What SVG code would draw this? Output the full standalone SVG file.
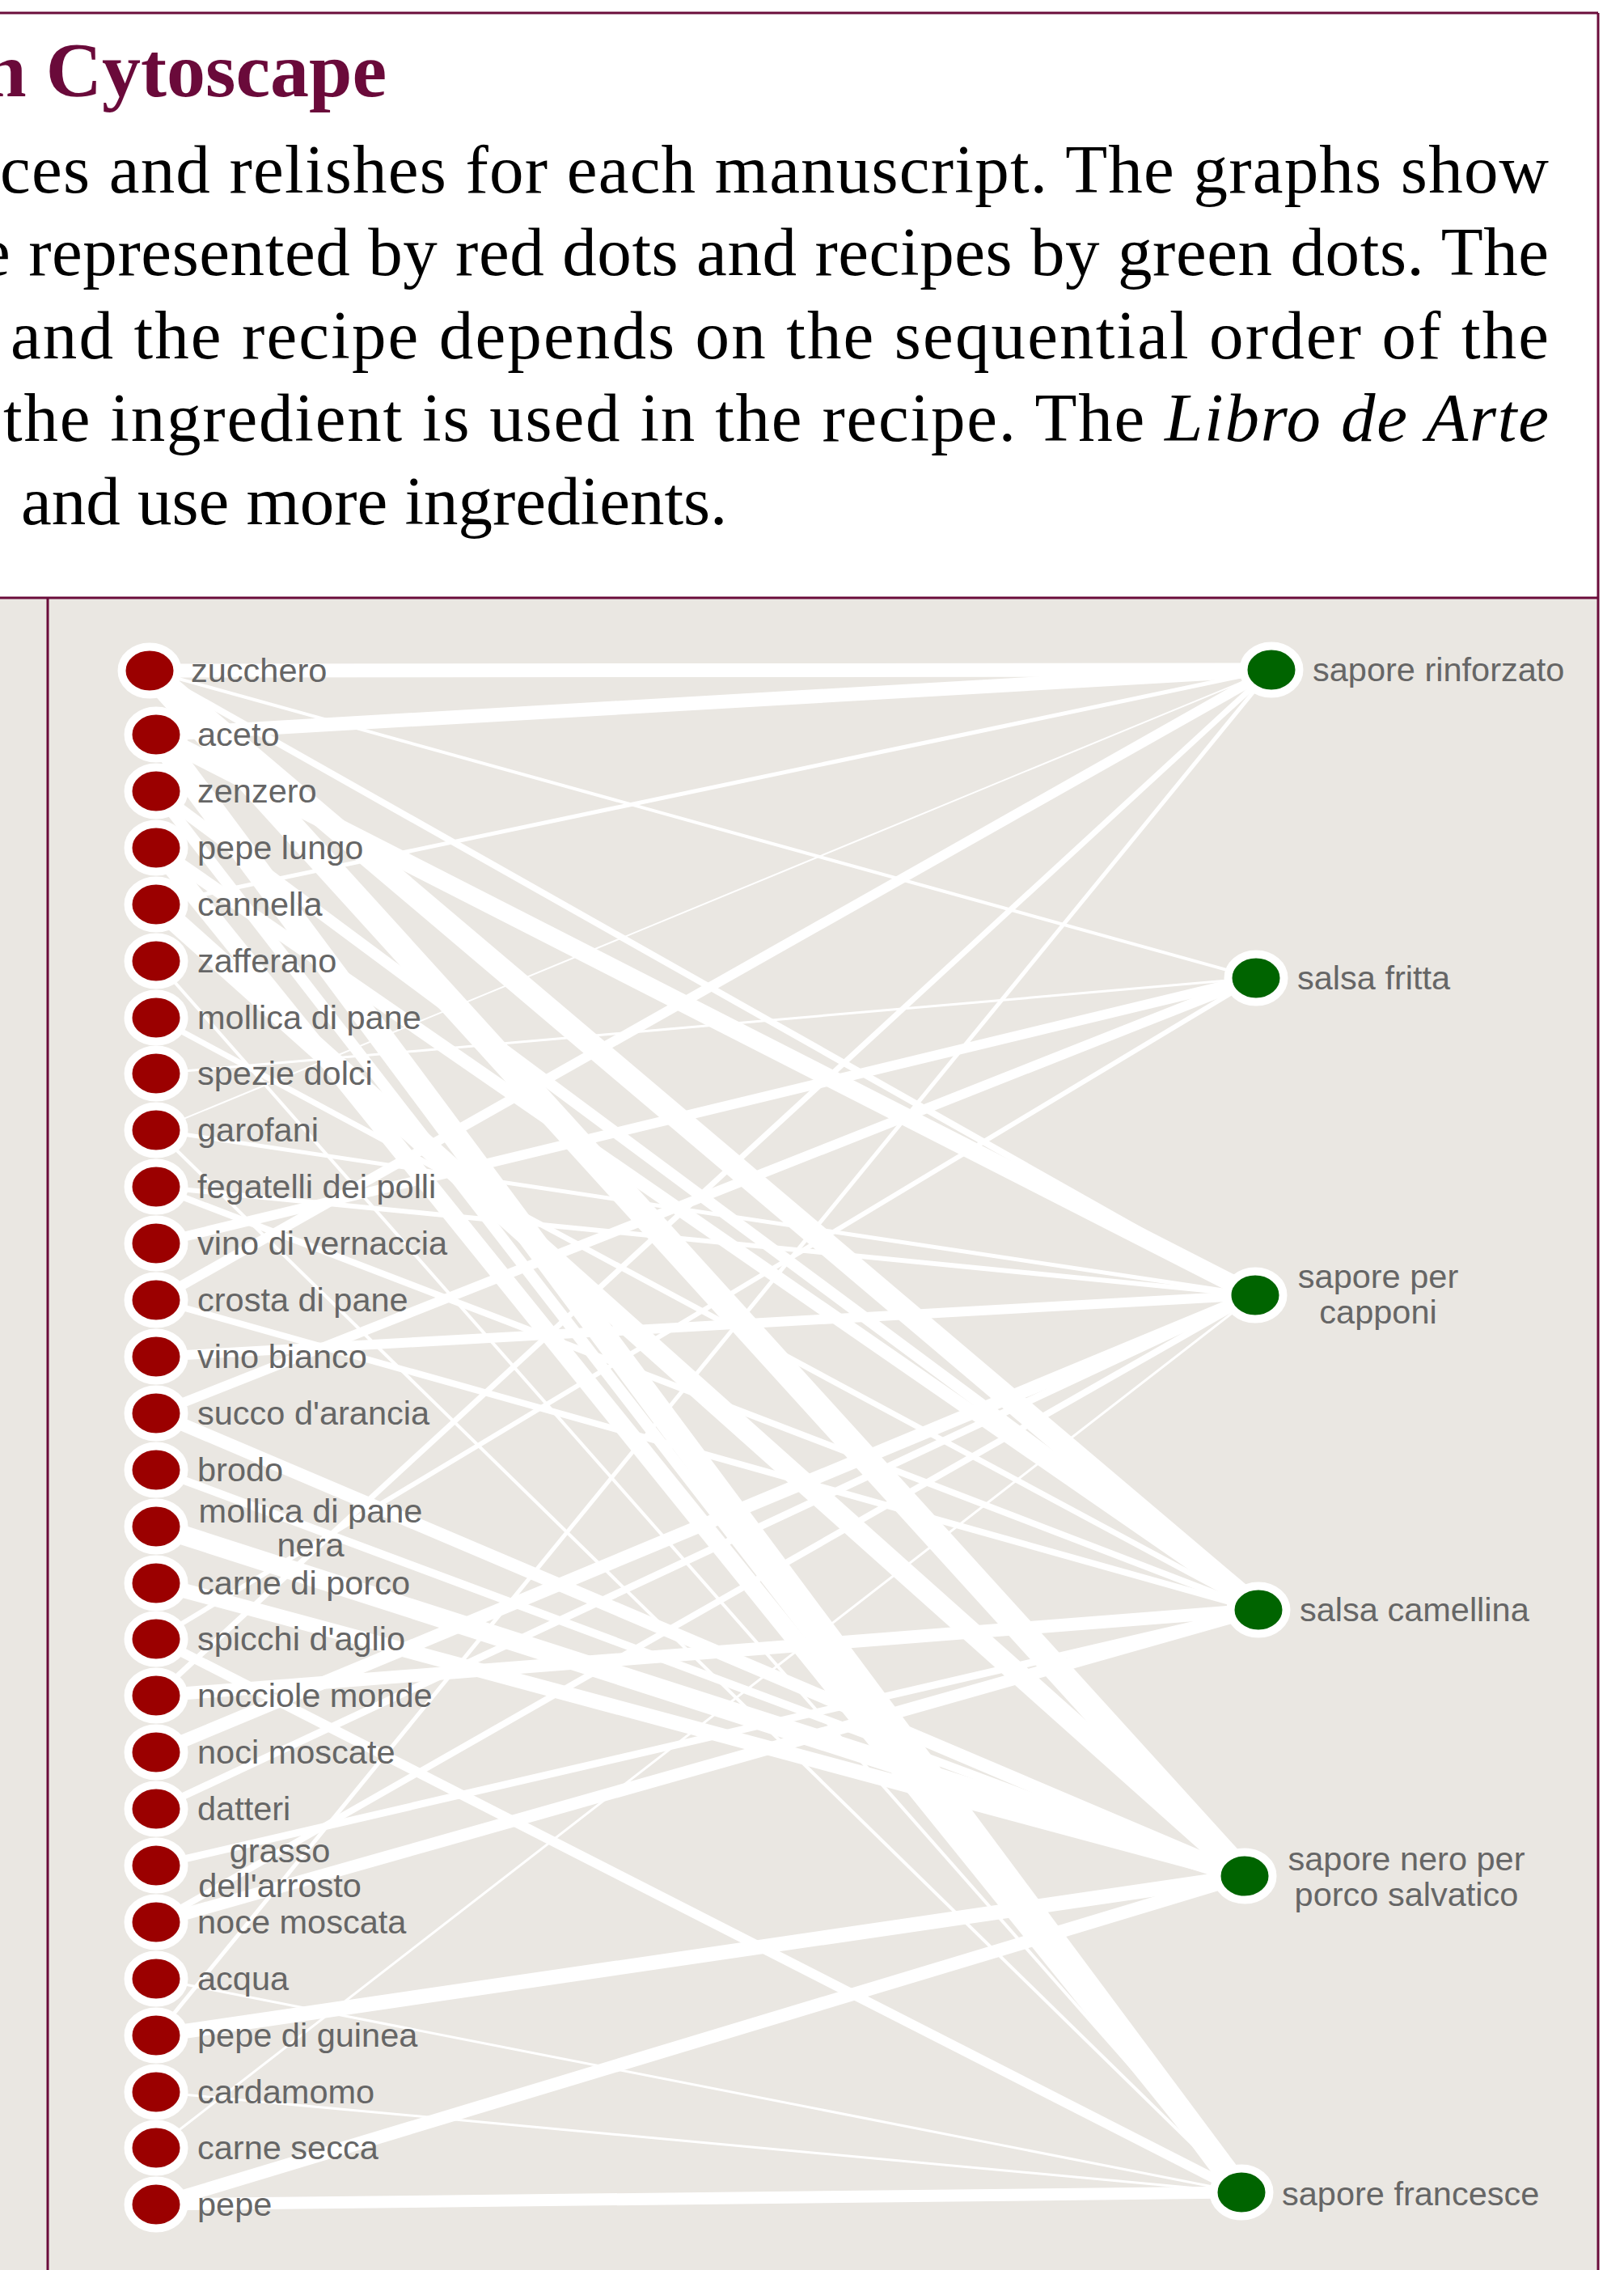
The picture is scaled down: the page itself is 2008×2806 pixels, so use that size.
<svg xmlns="http://www.w3.org/2000/svg" width="2008" height="2806" viewBox="0 0 2008 2806">
<style>
.frame{stroke:#6B0D3B;stroke-width:3;fill:none}
.title{font-family:"Liberation Serif","Times New Roman",serif;font-weight:bold;font-size:96px;fill:#6A0A3A}
.body{font-family:"Liberation Serif","Times New Roman",serif;font-size:85px;fill:#000}
.e{stroke:#FFFFFF;fill:none;stroke-linecap:butt}
.ing ellipse{fill:#9B0000;stroke:#FFFFFF;stroke-width:10}
.rec ellipse{fill:#006400;stroke:#FFFFFF;stroke-width:10}
.lbl{font-family:"Liberation Sans",Arial,sans-serif;font-size:41.5px;fill:#666666}
.mid{text-anchor:middle}
</style>
<rect x="0" y="0" width="2008" height="2806" fill="#FFFFFF"/>
<rect x="0" y="739" width="1976" height="2067" fill="#EAE7E2"/>
<g id="header">
<text class="title" x="478" y="119" text-anchor="end">n Cytoscape</text>
<text class="body" x="0" y="238" textLength="1915" lengthAdjust="spacing">ces and relishes for each manuscript. The graphs show</text>
<text class="body" x="-25" y="340" textLength="1940" lengthAdjust="spacing">e represented by red dots and recipes by green dots. The</text>
<text class="body" x="13" y="443" textLength="1902" lengthAdjust="spacing">and the recipe depends on the sequential order of the</text>
<text class="body" x="4" y="545" textLength="1911" lengthAdjust="spacing">the ingredient is used in the recipe. The <tspan font-style="italic">Libro de Arte</tspan></text>
<text class="body" x="26" y="648">and use more ingredients.</text>
</g>
<g id="frame">
<line class="frame" x1="0" y1="16" x2="1976" y2="16"/>
<line class="frame" x1="1976" y1="16" x2="1976" y2="2806"/>
<line class="frame" x1="0" y1="739" x2="1976" y2="739"/>
<line class="frame" x1="59" y1="739" x2="59" y2="2806"/>
</g>
<g id="connectors">
<line class="e" stroke-width="17" x1="185" y1="829" x2="1572" y2="828"/>
<line class="e" stroke-width="17" x1="193" y1="908" x2="1572" y2="828"/>
<line class="e" stroke-width="5" x1="193" y1="1118" x2="1572" y2="828"/>
<line class="e" stroke-width="2" x1="193" y1="1397" x2="1572" y2="828"/>
<line class="e" stroke-width="12" x1="193" y1="1607" x2="1572" y2="828"/>
<line class="e" stroke-width="7" x1="193" y1="2096" x2="1572" y2="828"/>
<line class="e" stroke-width="5" x1="193" y1="2516" x2="1572" y2="828"/>
<line class="e" stroke-width="4" x1="185" y1="829" x2="1553" y2="1209"/>
<line class="e" stroke-width="3" x1="193" y1="1327" x2="1553" y2="1209"/>
<line class="e" stroke-width="12" x1="193" y1="1537" x2="1553" y2="1209"/>
<line class="e" stroke-width="12" x1="193" y1="1747" x2="1553" y2="1209"/>
<line class="e" stroke-width="6" x1="193" y1="2026" x2="1553" y2="1209"/>
<line class="e" stroke-width="22" x1="193" y1="908" x2="1552" y2="1601"/>
<line class="e" stroke-width="8" x1="185" y1="829" x2="1552" y2="1601"/>
<line class="e" stroke-width="5" x1="193" y1="1397" x2="1552" y2="1601"/>
<line class="e" stroke-width="6" x1="193" y1="1467" x2="1552" y2="1601"/>
<line class="e" stroke-width="12" x1="193" y1="1677" x2="1552" y2="1601"/>
<line class="e" stroke-width="16" x1="193" y1="2166" x2="1552" y2="1601"/>
<line class="e" stroke-width="8" x1="193" y1="2376" x2="1552" y2="1601"/>
<line class="e" stroke-width="3" x1="193" y1="2655" x2="1552" y2="1601"/>
<line class="e" stroke-width="9" x1="193" y1="2236" x2="1552" y2="1601"/>
<line class="e" stroke-width="28" x1="185" y1="829" x2="1556" y2="1990"/>
<line class="e" stroke-width="14" x1="193" y1="978" x2="1556" y2="1990"/>
<line class="e" stroke-width="16" x1="193" y1="1048" x2="1556" y2="1990"/>
<line class="e" stroke-width="7" x1="193" y1="1258" x2="1556" y2="1990"/>
<line class="e" stroke-width="8" x1="193" y1="1467" x2="1556" y2="1990"/>
<line class="e" stroke-width="8" x1="193" y1="1607" x2="1556" y2="1990"/>
<line class="e" stroke-width="16" x1="193" y1="2096" x2="1556" y2="1990"/>
<line class="e" stroke-width="9" x1="193" y1="2306" x2="1556" y2="1990"/>
<line class="e" stroke-width="15" x1="193" y1="2376" x2="1556" y2="1990"/>
<line class="e" stroke-width="32" x1="185" y1="829" x2="1539" y2="2319"/>
<line class="e" stroke-width="26" x1="193" y1="1118" x2="1539" y2="2319"/>
<line class="e" stroke-width="16" x1="193" y1="1747" x2="1539" y2="2319"/>
<line class="e" stroke-width="10" x1="193" y1="1817" x2="1539" y2="2319"/>
<line class="e" stroke-width="24" x1="193" y1="1887" x2="1539" y2="2319"/>
<line class="e" stroke-width="18" x1="193" y1="1957" x2="1539" y2="2319"/>
<line class="e" stroke-width="18" x1="193" y1="2516" x2="1539" y2="2319"/>
<line class="e" stroke-width="16" x1="193" y1="2725" x2="1539" y2="2319"/>
<line class="e" stroke-width="30" x1="193" y1="908" x2="1535" y2="2710"/>
<line class="e" stroke-width="14" x1="193" y1="978" x2="1535" y2="2710"/>
<line class="e" stroke-width="22" x1="193" y1="1048" x2="1535" y2="2710"/>
<line class="e" stroke-width="4" x1="193" y1="1188" x2="1535" y2="2710"/>
<line class="e" stroke-width="4" x1="193" y1="1397" x2="1535" y2="2710"/>
<line class="e" stroke-width="12" x1="193" y1="2026" x2="1535" y2="2710"/>
<line class="e" stroke-width="15" x1="193" y1="2725" x2="1535" y2="2710"/>
<line class="e" stroke-width="3" x1="193" y1="2446" x2="1535" y2="2710"/>
<line class="e" stroke-width="3" x1="193" y1="2586" x2="1535" y2="2710"/>
</g>
<g id="n-zucchero" class="ing"><ellipse cx="185" cy="829" rx="34.5" ry="29.5"/><text class="lbl" x="236" y="843">zucchero</text></g>
<g id="n-aceto" class="ing"><ellipse cx="193" cy="908" rx="34.5" ry="29.5"/><text class="lbl" x="244" y="922">aceto</text></g>
<g id="n-zenzero" class="ing"><ellipse cx="193" cy="978" rx="34.5" ry="29.5"/><text class="lbl" x="244" y="992">zenzero</text></g>
<g id="n-pepe-lungo" class="ing"><ellipse cx="193" cy="1048" rx="34.5" ry="29.5"/><text class="lbl" x="244" y="1062">pepe lungo</text></g>
<g id="n-cannella" class="ing"><ellipse cx="193" cy="1118" rx="34.5" ry="29.5"/><text class="lbl" x="244" y="1132">cannella</text></g>
<g id="n-zafferano" class="ing"><ellipse cx="193" cy="1188" rx="34.5" ry="29.5"/><text class="lbl" x="244" y="1202">zafferano</text></g>
<g id="n-mollica-di-pane" class="ing"><ellipse cx="193" cy="1258" rx="34.5" ry="29.5"/><text class="lbl" x="244" y="1272">mollica di pane</text></g>
<g id="n-spezie-dolci" class="ing"><ellipse cx="193" cy="1327" rx="34.5" ry="29.5"/><text class="lbl" x="244" y="1341">spezie dolci</text></g>
<g id="n-garofani" class="ing"><ellipse cx="193" cy="1397" rx="34.5" ry="29.5"/><text class="lbl" x="244" y="1411">garofani</text></g>
<g id="n-fegatelli" class="ing"><ellipse cx="193" cy="1467" rx="34.5" ry="29.5"/><text class="lbl" x="244" y="1481">fegatelli dei polli</text></g>
<g id="n-vino-vernaccia" class="ing"><ellipse cx="193" cy="1537" rx="34.5" ry="29.5"/><text class="lbl" x="244" y="1551">vino di vernaccia</text></g>
<g id="n-crosta" class="ing"><ellipse cx="193" cy="1607" rx="34.5" ry="29.5"/><text class="lbl" x="244" y="1621">crosta di pane</text></g>
<g id="n-vino-bianco" class="ing"><ellipse cx="193" cy="1677" rx="34.5" ry="29.5"/><text class="lbl" x="244" y="1691">vino bianco</text></g>
<g id="n-succo" class="ing"><ellipse cx="193" cy="1747" rx="34.5" ry="29.5"/><text class="lbl" x="244" y="1761">succo d'arancia</text></g>
<g id="n-brodo" class="ing"><ellipse cx="193" cy="1817" rx="34.5" ry="29.5"/><text class="lbl" x="244" y="1831">brodo</text></g>
<g id="n-mollica-nera" class="ing"><ellipse cx="193" cy="1887" rx="34.5" ry="29.5"/><text class="lbl mid" x="384" y="1882">mollica di pane</text><text class="lbl mid" x="384" y="1924">nera</text></g>
<g id="n-carne-porco" class="ing"><ellipse cx="193" cy="1957" rx="34.5" ry="29.5"/><text class="lbl" x="244" y="1971">carne di porco</text></g>
<g id="n-spicchi" class="ing"><ellipse cx="193" cy="2026" rx="34.5" ry="29.5"/><text class="lbl" x="244" y="2040">spicchi d'aglio</text></g>
<g id="n-nocciole" class="ing"><ellipse cx="193" cy="2096" rx="34.5" ry="29.5"/><text class="lbl" x="244" y="2110">nocciole monde</text></g>
<g id="n-noci-moscate" class="ing"><ellipse cx="193" cy="2166" rx="34.5" ry="29.5"/><text class="lbl" x="244" y="2180">noci moscate</text></g>
<g id="n-datteri" class="ing"><ellipse cx="193" cy="2236" rx="34.5" ry="29.5"/><text class="lbl" x="244" y="2250">datteri</text></g>
<g id="n-grasso" class="ing"><ellipse cx="193" cy="2306" rx="34.5" ry="29.5"/><text class="lbl mid" x="346" y="2302">grasso</text><text class="lbl mid" x="346" y="2345">dell'arrosto</text></g>
<g id="n-noce-moscata" class="ing"><ellipse cx="193" cy="2376" rx="34.5" ry="29.5"/><text class="lbl" x="244" y="2390">noce moscata</text></g>
<g id="n-acqua" class="ing"><ellipse cx="193" cy="2446" rx="34.5" ry="29.5"/><text class="lbl" x="244" y="2460">acqua</text></g>
<g id="n-pepe-guinea" class="ing"><ellipse cx="193" cy="2516" rx="34.5" ry="29.5"/><text class="lbl" x="244" y="2530">pepe di guinea</text></g>
<g id="n-cardamomo" class="ing"><ellipse cx="193" cy="2586" rx="34.5" ry="29.5"/><text class="lbl" x="244" y="2600">cardamomo</text></g>
<g id="n-carne-secca" class="ing"><ellipse cx="193" cy="2655" rx="34.5" ry="29.5"/><text class="lbl" x="244" y="2669">carne secca</text></g>
<g id="n-pepe" class="ing"><ellipse cx="193" cy="2725" rx="34.5" ry="29.5"/><text class="lbl" x="244" y="2739">pepe</text></g>
<g id="r-sapore-rinforzato" class="rec"><ellipse cx="1572" cy="828" rx="34.5" ry="29.5"/><text class="lbl" x="1623" y="842">sapore rinforzato</text></g>
<g id="r-salsa-fritta" class="rec"><ellipse cx="1553" cy="1209" rx="34.5" ry="29.5"/><text class="lbl" x="1604" y="1223">salsa fritta</text></g>
<g id="r-sapore-capponi" class="rec"><ellipse cx="1552" cy="1601" rx="34.5" ry="29.5"/><text class="lbl mid" x="1704" y="1592">sapore per</text><text class="lbl mid" x="1704" y="1636">capponi</text></g>
<g id="r-salsa-camellina" class="rec"><ellipse cx="1556" cy="1990" rx="34.5" ry="29.5"/><text class="lbl" x="1607" y="2004">salsa camellina</text></g>
<g id="r-sapore-nero" class="rec"><ellipse cx="1539" cy="2319" rx="34.5" ry="29.5"/><text class="lbl mid" x="1739" y="2312">sapore nero per</text><text class="lbl mid" x="1739" y="2356">porco salvatico</text></g>
<g id="r-sapore-francesce" class="rec"><ellipse cx="1535" cy="2710" rx="34.5" ry="29.5"/><text class="lbl" x="1585" y="2726">sapore francesce</text></g>
</svg>
